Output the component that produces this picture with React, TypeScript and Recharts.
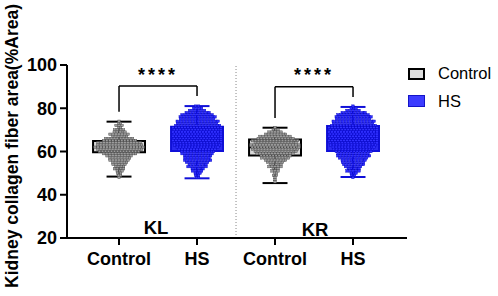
import React from 'react';
import { ScatterChart, Scatter, XAxis, YAxis, ReferenceArea, ReferenceLine, ReferenceDot } from 'recharts';

const groupNames = ['Control', 'HS', 'Control', 'HS'];
const tissueNames = ['KL', 'KR'];
const xTicks = [0, 1, 2, 3];
const yTicks = [20, 40, 60, 80, 100];

// box plot stats per group (KL Control, KL HS, KR Control, KR HS)
const boxMin = [48.4, 47.6, 45.4, 48.2];
const boxQ1 = [59.6, 60.2, 58.2, 60.2];
const boxMedian = [62.2, 66.5, 61.8, 66.0];
const boxQ3 = [64.8, 71.5, 65.6, 71.8];
const boxMax = [73.8, 81.0, 71.0, 80.6];

// individual points, counted per 1% bin from the top bin downwards
const binTop = [74, 81, 71, 81];
const klControlCounts = [1, 2, 3, 2, 4, 5, 7, 6, 10, 12, 15, 16, 17, 16, 14, 12, 9, 8, 7, 6, 5, 4, 4, 3, 2, 2, 1];
const klHsCounts = [2, 4, 6, 9, 11, 13, 12, 15, 14, 16, 17, 17, 17, 17, 17, 17, 17, 17, 16, 15, 13, 12, 11, 10, 9, 10, 8, 7, 7, 5, 4, 3, 2, 2];
const krControlCounts = [1, 3, 5, 8, 11, 13, 16, 15, 17, 17, 16, 15, 13, 11, 10, 8, 6, 5, 5, 3, 3, 2, 2, 1, 1, 1];
const krHsCounts = [1, 3, 5, 9, 11, 13, 12, 15, 14, 16, 17, 17, 17, 17, 17, 17, 17, 17, 16, 15, 14, 13, 11, 12, 10, 9, 8, 8, 6, 5, 5, 3, 2, 1];

// significance brackets: top line, left / right leg ends
const bracketTop = [90.3, 90.0];
const bracketLeftEnd = [78.4, 75.5];
const bracketRightEnd = [85.7, 85.2];
const starsY = 95.4;

const FONT = '"Liberation Sans", Arial, Helvetica, sans-serif';
const X_MIN = -0.667;
const X_MAX = 3.692;
const DOT_STEP = 3 / 78;
const BOX_HALF = 0.333;
const CAP_HALF = 0.16;

const isHs = (i: number) => i % 2 === 1;
const strokeOf = (i: number) => (isHs(i) ? '#1010d8' : '#000');
const boxFill = (i: number) => (isHs(i) ? '#2a2af0' : '#d8d8d8');

function dots(group: number, top: number, counts: number[]) {
  const pts: { x: number; y: number }[] = [];
  counts.forEach((n, r) => {
    const shift = r % 2 === 0 ? 0 : 0.4;
    for (let j = 0; j < n; j++) {
      pts.push({ x: group + (j - (n - 1) / 2 + (j < n - 1 ? shift : 0)) * DOT_STEP, y: top - r });
    }
  });
  return pts;
}

const allCounts = [klControlCounts, klHsCounts, krControlCounts, krHsCounts];
const pointSets = allCounts.map((c, i) => dots(i, binTop[i], c));

const square = (fill: string, stroke: string) => (props: any) => {
  const { cx, cy } = props;
  if (cx == null || cy == null) return null;
  return <rect x={cx - 1.25} y={cy - 1.2} width={2.5} height={2.4} fill={fill} stroke={stroke} strokeWidth={0.45} />;
};

// text centred on a reference point, dx moves it sideways
const pointText = (text: string, size: number, anchor = 'middle', dx = 0, extra: any = {}) => (props: any) => {
  const vb = props.viewBox || {};
  const x = Math.round((vb.x ?? 0) + (vb.width ?? 0) / 2 + dx);
  const y = Math.round((vb.y ?? 0) + (vb.height ?? 0) / 2 + size * 0.36);
  return (
    <text x={x} y={y} textAnchor={anchor} fontFamily={FONT} fontSize={size} fontWeight={700} fill="#000" {...extra}>
      {text}
    </text>
  );
};

const XTick = (props: any) => {
  const { x, y, payload } = props;
  return (
    <text x={Math.round(x)} y={Math.round(y) + 14} textAnchor="middle" fontFamily={FONT} fontSize={18} fontWeight={700} fill="#000">
      {groupNames[payload.value]}
    </text>
  );
};

export default function App() {
  return (
    <div style={{ position: 'absolute', left: 0, top: 0, width: 498, height: 296, background: '#fff' }}>
      <ScatterChart width={498} height={296} margin={{ top: 65, right: 91, bottom: 28, left: 0 }}>
        <XAxis
          type="number"
          dataKey="x"
          domain={[X_MIN, X_MAX]}
          ticks={xTicks}
          allowDataOverflow
          height={30}
          tickSize={7}
          tickMargin={6}
          axisLine={{ stroke: '#000', strokeWidth: 2 }}
          tickLine={{ stroke: '#000', strokeWidth: 2 }}
          tick={<XTick />}
        />
        <YAxis
          type="number"
          dataKey="y"
          domain={[20, 100]}
          ticks={yTicks}
          allowDataOverflow
          width={67}
          tickSize={7}
          tickMargin={2}
          axisLine={{ stroke: '#000', strokeWidth: 2 }}
          tickLine={{ stroke: '#000', strokeWidth: 2 }}
          tick={() => <g />}
          label={{
            content: () => (
              <text x={18} y={146} transform="rotate(-90 18 146)" textAnchor="middle" fontFamily={FONT} fontSize={17.5} fontWeight={700} fill="#000">
                Kidney collagen fiber area(%Area)
              </text>
            ),
          }}
        />

        {yTicks.map((v) => (
          <ReferenceDot key={`yl-${v}`} x={X_MIN} y={v} r={0} fill="none" stroke="none" ifOverflow="visible" label={pointText(String(v), 18, 'end', -10)} />
        ))}

        <ReferenceLine x={1.5} stroke="#888" strokeWidth={1} strokeDasharray="1 2" />

        {xTicks.map((i) => (
          <ReferenceArea key={`box-${i}`} x1={i - BOX_HALF} x2={i + BOX_HALF} y1={boxQ1[i]} y2={boxQ3[i]} fill={boxFill(i)} fillOpacity={1} stroke={strokeOf(i)} strokeWidth={2} />
        ))}
        {xTicks.map((i) => (
          <ReferenceLine key={`wl-${i}`} segment={[{ x: i, y: boxMin[i] }, { x: i, y: boxQ1[i] }]} stroke={strokeOf(i)} strokeWidth={2} />
        ))}
        {xTicks.map((i) => (
          <ReferenceLine key={`wh-${i}`} segment={[{ x: i, y: boxQ3[i] }, { x: i, y: boxMax[i] }]} stroke={strokeOf(i)} strokeWidth={2} />
        ))}

        {pointSets.map((pts, i) => (
          <Scatter
            key={`pts-${i}`}
            data={pts}
            isAnimationActive={false}
            shape={isHs(i) ? square('#3030ff', '#0606c4') : square('#9c9c9c', '#4e4e4e')}
          />
        ))}

        {xTicks.map((i) => (
          <ReferenceLine key={`med-${i}`} segment={[{ x: i - BOX_HALF, y: boxMedian[i] }, { x: i + BOX_HALF, y: boxMedian[i] }]} stroke={strokeOf(i)} strokeWidth={1.5} />
        ))}
        {xTicks.map((i) => (
          <ReferenceLine key={`cmin-${i}`} segment={[{ x: i - CAP_HALF, y: boxMin[i] }, { x: i + CAP_HALF, y: boxMin[i] }]} stroke={strokeOf(i)} strokeWidth={2} />
        ))}
        {xTicks.map((i) => (
          <ReferenceLine key={`cmax-${i}`} segment={[{ x: i - CAP_HALF, y: boxMax[i] }, { x: i + CAP_HALF, y: boxMax[i] }]} stroke={strokeOf(i)} strokeWidth={2} />
        ))}

        {tissueNames.map((_, k) => (
          <ReferenceLine key={`bl-${k}`} segment={[{ x: 2 * k, y: bracketLeftEnd[k] }, { x: 2 * k, y: bracketTop[k] }]} stroke="#000" strokeWidth={1.5} />
        ))}
        {tissueNames.map((_, k) => (
          <ReferenceLine key={`bt-${k}`} segment={[{ x: 2 * k, y: bracketTop[k] }, { x: 2 * k + 1, y: bracketTop[k] }]} stroke="#000" strokeWidth={1.5} />
        ))}
        {tissueNames.map((_, k) => (
          <ReferenceLine key={`br-${k}`} segment={[{ x: 2 * k + 1, y: bracketTop[k] }, { x: 2 * k + 1, y: bracketRightEnd[k] }]} stroke="#000" strokeWidth={1.5} />
        ))}
        {tissueNames.map((_, k) => (
          <ReferenceDot key={`st-${k}`} x={2 * k + 0.5} y={starsY} r={0} fill="none" stroke="none" label={pointText('****', 18, 'middle', 0, { letterSpacing: 3 })} />
        ))}

        <ReferenceDot x={0.47} y={25.1} r={0} fill="none" stroke="none" label={pointText(tissueNames[0], 18.5)} />
        <ReferenceDot x={2.51} y={24.2} r={0} fill="none" stroke="none" label={pointText(tissueNames[1], 18.5)} />
      </ScatterChart>

      <div style={{ position: 'absolute', left: 408, top: 68, width: 17, height: 12, boxSizing: 'border-box', border: '2px solid #000', background: '#dedede' }} />
      <div style={{ position: 'absolute', left: 438, top: 63, height: 20, lineHeight: '20px', fontFamily: FONT, fontSize: 16.5, color: '#000' }}>Control</div>
      <div style={{ position: 'absolute', left: 408, top: 95, width: 17, height: 12, boxSizing: 'border-box', border: '1.5px solid #1414c8', background: '#3c3cff' }} />
      <div style={{ position: 'absolute', left: 438, top: 91, height: 20, lineHeight: '20px', fontFamily: FONT, fontSize: 16.5, color: '#000' }}>HS</div>
    </div>
  );
}
